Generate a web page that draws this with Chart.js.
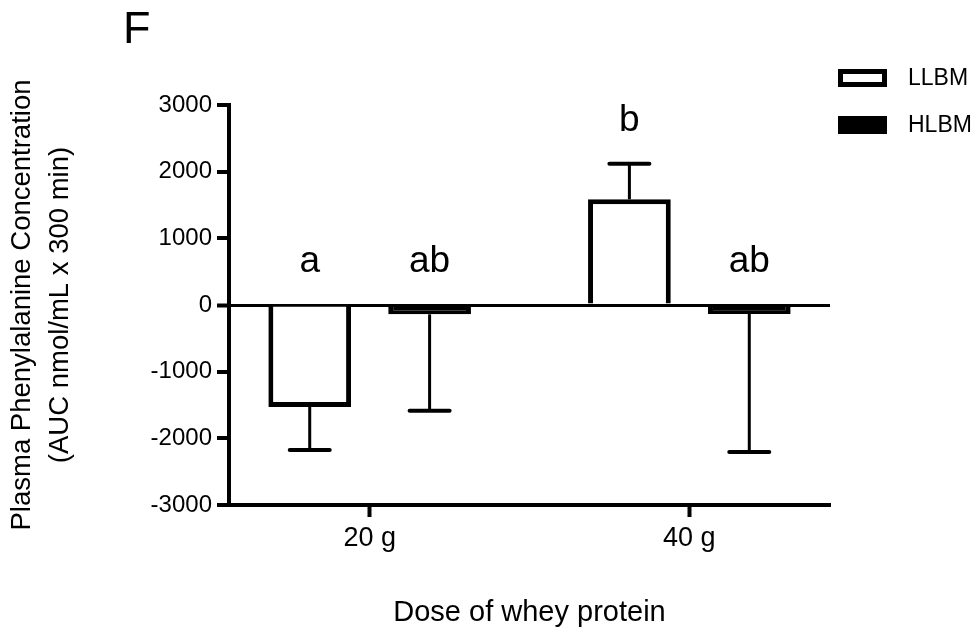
<!DOCTYPE html>
<html>
<head>
<meta charset="utf-8">
<title>Plasma Phenylalanine Concentration</title>
<script src="https://cdn.jsdelivr.net/npm/chart.js@4.4.1/dist/chart.umd.min.js"></script>
<style>
  html, body { margin: 0; padding: 0; background: #fff; }
  #wrap { width: 980px; height: 635px; position: relative; }
</style>
</head>
<body>
<div id="wrap"><canvas id="myChart"></canvas></div>
<script>
// chart values
var doses = ['20 g', '40 g'];
var seriesNames = ['LLBM', 'HLBM'];
var llbmMeans = [-1530, 1585];
var llbmErr = [645, 535];
var hlbmMeans = [-140, -135];
var hlbmErr = [1445, 2070];
var llbmLetters = ['a', 'b'];
var hlbmLetters = ['ab', 'ab'];
var yTicks = [-3000, -2000, -1000, 0, 1000, 2000, 3000];

var FONT = '"Liberation Sans", Arial, sans-serif';

function points(values) {
    return values.map(function(v, i) { return { x: i + 1, y: v }; });
}

// error bars, letters, legend and panel letter
var extras = {
    id: 'extras',
    afterDatasetsDraw: function(chart) {
        var ctx = chart.ctx, ys = chart.scales.y;
        ctx.save();
        ctx.strokeStyle = '#000';
        ctx.fillStyle = '#000';
        chart.data.datasets.forEach(function(ds, di) {
            var meta = chart.getDatasetMeta(di);
            meta.data.forEach(function(bar, i) {
                var v = ds.data[i].y, e = ds.errors[i];
                var end = v < 0 ? v - e : v + e;
                var p0 = ys.getPixelForValue(v), p1 = ys.getPixelForValue(end);
                ctx.lineWidth = 3;
                ctx.beginPath();
                ctx.moveTo(bar.x, p0);
                ctx.lineTo(bar.x, p1);
                ctx.stroke();
                ctx.lineWidth = 4;
                ctx.lineCap = 'round';
                ctx.beginPath();
                ctx.moveTo(bar.x - 20, p1);
                ctx.lineTo(bar.x + 20, p1);
                ctx.stroke();
                ctx.lineCap = 'butt';

                var top = ys.getPixelForValue(Math.max(0, v, end));
                ctx.font = '37px ' + FONT;
                ctx.textAlign = 'center';
                ctx.textBaseline = 'alphabetic';
                ctx.fillText(ds.letters[i], bar.x, top - 33);
            });
        });
        ctx.restore();
    },
    afterDraw: function(chart) {
        var ctx = chart.ctx;
        ctx.save();
        // legend
        chart.data.datasets.forEach(function(ds, di) {
            var bx = 838, by = 69 + di * 47;
            if (ds.backgroundColor === '#000') {
                ctx.fillStyle = '#000';
                ctx.fillRect(bx, by, 49, 18);
            } else {
                ctx.fillStyle = '#fff';
                ctx.fillRect(bx, by, 49, 18);
                ctx.strokeStyle = '#000';
                ctx.lineWidth = 5;
                ctx.strokeRect(bx + 2.5, by + 2.5, 44, 13);
            }
            ctx.fillStyle = '#000';
            ctx.font = '23px ' + FONT;
            ctx.textAlign = 'left';
            ctx.textBaseline = 'middle';
            ctx.fillText(ds.label, 908, by + 10);
        });
        // panel letter
        ctx.font = '45px ' + FONT;
        ctx.textAlign = 'left';
        ctx.textBaseline = 'alphabetic';
        ctx.fillText('F', 123, 43);
        ctx.restore();
    }
};

var ctx = document.getElementById('myChart').getContext('2d');
var chart = new Chart(ctx, {
    type: 'bar',
    data: {
        datasets: [{
            label: seriesNames[0],
            data: points(llbmMeans),
            errors: llbmErr,
            letters: llbmLetters,
            backgroundColor: '#fff',
            borderColor: '#000',
            borderWidth: 5
        }, {
            label: seriesNames[1],
            data: points(hlbmMeans),
            errors: hlbmErr,
            letters: hlbmLetters,
            backgroundColor: '#000',
            borderColor: '#000',
            borderWidth: 5
        }]
    },
    options: {
        responsive: true,
        maintainAspectRatio: false,
        animation: false,
        devicePixelRatio: 1,
        categoryPercentage: 0.75,
        barPercentage: 0.69,
        layout: { padding: { top: 105, right: 150, bottom: 0, left: 0 } },
        plugins: { legend: { display: false }, tooltip: { enabled: false } },
        scales: {
            x: {
                type: 'linear',
                offset: false,
                min: 0.56,
                max: 2.44,
                afterBuildTicks: function(s) {
                    s.ticks = doses.map(function(d, i) { return { value: i + 1 }; });
                },
                afterFit: function(s) { s.height = 130; },
                ticks: {
                    color: '#000',
                    font: { family: FONT, size: 27 },
                    padding: 5,
                    callback: function(v) { return doses[v - 1]; }
                },
                grid: {
                    offset: false,
                    drawOnChartArea: false,
                    tickLength: 12,
                    tickWidth: 4,
                    tickColor: '#000'
                },
                border: { display: true, color: '#000', width: 4 },
                title: {
                    display: true,
                    text: 'Dose of whey protein',
                    color: '#000',
                    font: { family: FONT, size: 29 },
                    padding: { top: 0, bottom: 5 }
                }
            },
            y: {
                min: -3000,
                max: 3000,
                afterBuildTicks: function(s) {
                    s.ticks = yTicks.map(function(v) { return { value: v }; });
                },
                afterFit: function(s) { s.width = 229; },
                ticks: {
                    color: '#000',
                    font: { family: FONT, size: 24 },
                    padding: 5,
                    callback: function(v) { return String(v); }
                },
                grid: {
                    color: function(c) { return c.tick && c.tick.value === 0 ? '#000' : 'rgba(0,0,0,0)'; },
                    lineWidth: function(c) { return c.tick && c.tick.value === 0 ? 3 : 0; },
                    tickLength: 12,
                    tickWidth: 4,
                    tickColor: '#000'
                },
                border: { display: true, color: '#000', width: 4 },
                title: {
                    display: true,
                    text: ['Plasma Phenylalanine Concentration', '(AUC nmol/mL x 300 min)'],
                    color: '#000',
                    font: { family: FONT, size: 27.5, lineHeight: 1.4 },
                    padding: { top: 3, bottom: 0 }
                }
            }
        }
    },
    plugins: [extras]
});
</script>
</body>
</html>
